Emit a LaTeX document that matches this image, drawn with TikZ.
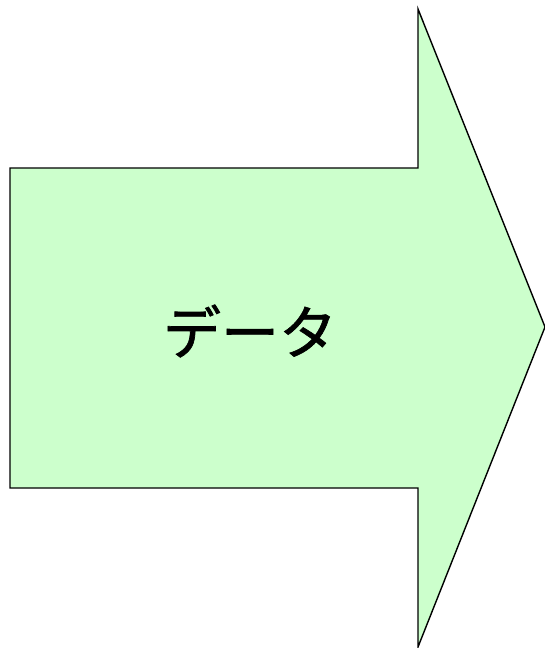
\documentclass[tikz,border=0pt]{standalone}
\usepackage{fontspec}
\newfontfamily\cjk[FakeBold=1.2]{Noto Sans CJK JP}
\definecolor{arrowfill}{HTML}{CCFFCC}

\begin{document}
\begin{tikzpicture}[x=1pt, y=-1pt,
    blockarrow/.style={draw=black, fill=arrowfill, line width=1.4pt, line join=miter},
    lbl/.style={font=\cjk\fontsize{58}{64}\selectfont, color=black}]
    \useasboundingbox (0,0) rectangle (545,648);
    \draw[blockarrow] (10,168) -- (418,168) -- (418,9) -- (545,327)
        -- (418,647) -- (418,488) -- (10,488) -- cycle;
    \node[lbl] (data) at (250,331) {データ};
  \end{tikzpicture}
\end{document}
